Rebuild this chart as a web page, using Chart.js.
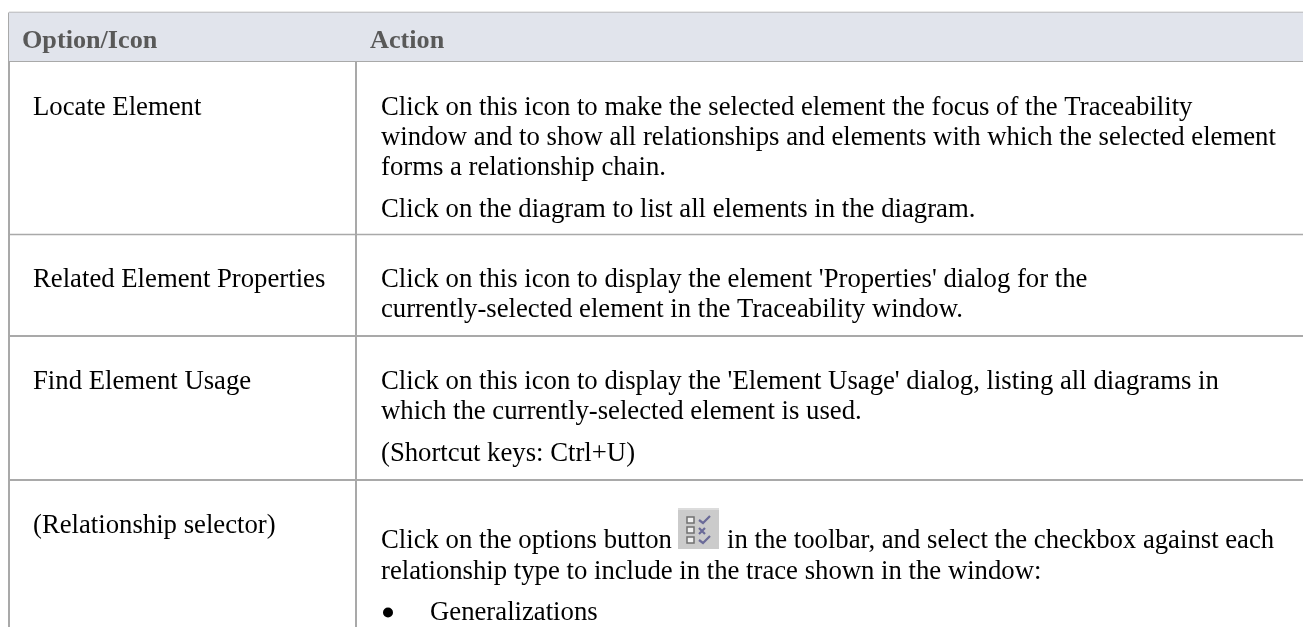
<!DOCTYPE html>
<html>
<head>
<meta charset="utf-8">
<style>
html, body { margin: 0; padding: 0; background: #fff; overflow: hidden; }
#wrap { width: 1303px; height: 627px; }
</style>
<script src="https://cdn.jsdelivr.net/npm/chart.js@4/dist/chart.umd.min.js"></script>
</head>
<body>
<div id="wrap"><canvas id="tableChart"></canvas></div>
<script>
const headers = ['Option/Icon', 'Action'];
const options = ['Locate Element', 'Related Element Properties', 'Find Element Usage', '(Relationship selector)'];
const actions = [
    ['Click on this icon to make the selected element the focus of the Traceability',
     'window and to show all relationships and elements with which the selected element',
     'forms a relationship chain.',
     'Click on the diagram to list all elements in the diagram.'],
    ['Click on this icon to display the element \'Properties\' dialog for the',
     'currently-selected element in the Traceability window.'],
    ['Click on this icon to display the \'Element Usage\' dialog, listing all diagrams in',
     'which the currently-selected element is used.',
     '(Shortcut keys: Ctrl+U)'],
    ['Click on the options button',
     'relationship type to include in the trace shown in the window:',
     'Generalizations']
];
const toolbarText = 'in the toolbar, and select the checkbox against each';

const rowLines = [12.5, 61, 234.5, 336, 480];
const colLines = [9, 356];
const optionBaselines = [115, 287, 389, 533];
const actionBaselines = [
    [115, 145, 175, 217],
    [287, 317],
    [389, 419, 461],
    [548, 579, 620]
];

const FONT = '"Liberation Serif", serif';

function rule(x0, y0, x1, y1, width) {
    return {
        type: 'line',
        data: [{ x: x0, y: y0 }, { x: x1, y: y1 }],
        borderColor: '#a9a9a9',
        borderWidth: width,
        pointRadius: 0,
        fill: false
    };
}

// header band, then the table rules
const datasets = [{
    type: 'line',
    data: [{ x: colLines[0], y: rowLines[1] }, { x: 1303, y: rowLines[1] }],
    borderWidth: 0,
    pointRadius: 0,
    backgroundColor: '#e1e4ec',
    fill: { value: rowLines[0] }
}];
rowLines.forEach(function (y, i) {
    datasets.push(rule(colLines[0], y, 1303, y, (i === 0 || i === 2) ? 1.5 : 2));
});
colLines.forEach(function (x) {
    datasets.push(rule(x, rowLines[0], x, 627, 2));
});

const tableText = {
    id: 'tableText',
    afterDatasetsDraw(chart) {
        const c = chart.ctx;
        const sx = chart.scales.x;
        const sy = chart.scales.y;
        c.save();
        c.textBaseline = 'alphabetic';
        c.fillStyle = '#595959';
        c.font = 'bold 26.2px ' + FONT;
        c.fillText(headers[0], sx.getPixelForValue(22), sy.getPixelForValue(48));
        c.fillText(headers[1], sx.getPixelForValue(370), sy.getPixelForValue(48));

        c.fillStyle = '#000';
        c.font = '26.72px ' + FONT;
        options.forEach(function (t, i) {
            c.fillText(t, sx.getPixelForValue(33), sy.getPixelForValue(optionBaselines[i]));
        });
        actions.forEach(function (lines, r) {
            lines.forEach(function (t, l) {
                const bullet = r === 3 && l === 2;
                c.fillText(t, sx.getPixelForValue(bullet ? 430 : 381), sy.getPixelForValue(actionBaselines[r][l]));
            });
        });
        c.fillText(toolbarText, sx.getPixelForValue(727), sy.getPixelForValue(actionBaselines[3][0]));

        // list bullet
        c.beginPath();
        c.arc(sx.getPixelForValue(388), sy.getPixelForValue(612.5), 5, 0, Math.PI * 2);
        c.fill();

        // options button icon
        const ix = sx.getPixelForValue(678);
        const iy = sy.getPixelForValue(508);
        c.fillStyle = '#cbcbcb';
        c.fillRect(ix, iy, 41, 41);
        c.fillStyle = '#dcdcdc';
        c.fillRect(ix, iy, 41, 2);
        [9, 19, 29].forEach(function (d) {
            c.fillStyle = '#f0f0f0';
            c.fillRect(ix + 9, iy + d, 7, 6);
            c.strokeStyle = '#707070';
            c.lineWidth = 1.5;
            c.strokeRect(ix + 9, iy + d, 7, 6);
        });
        c.strokeStyle = '#6a6a98';
        c.lineWidth = 2.2;
        [8, 28].forEach(function (d) {
            c.beginPath();
            c.moveTo(ix + 21, iy + d + 4);
            c.lineTo(ix + 25, iy + d + 7);
            c.lineTo(ix + 32, iy + d);
            c.stroke();
        });
        c.beginPath();
        c.moveTo(ix + 21, iy + 20);
        c.lineTo(ix + 27, iy + 26);
        c.moveTo(ix + 27, iy + 20);
        c.lineTo(ix + 21, iy + 26);
        c.stroke();
        c.restore();
    }
};

new Chart(document.getElementById('tableChart').getContext('2d'), {
    data: { datasets: datasets },
    plugins: [tableText],
    options: {
        responsive: true,
        maintainAspectRatio: false,
        animation: false,
        layout: { padding: 0 },
        scales: {
            x: { type: 'linear', min: 0, max: 1303, display: false },
            y: { type: 'linear', min: 0, max: 627, reverse: true, display: false }
        },
        plugins: { legend: { display: false }, tooltip: { enabled: false } }
    }
});
</script>
</body>
</html>
